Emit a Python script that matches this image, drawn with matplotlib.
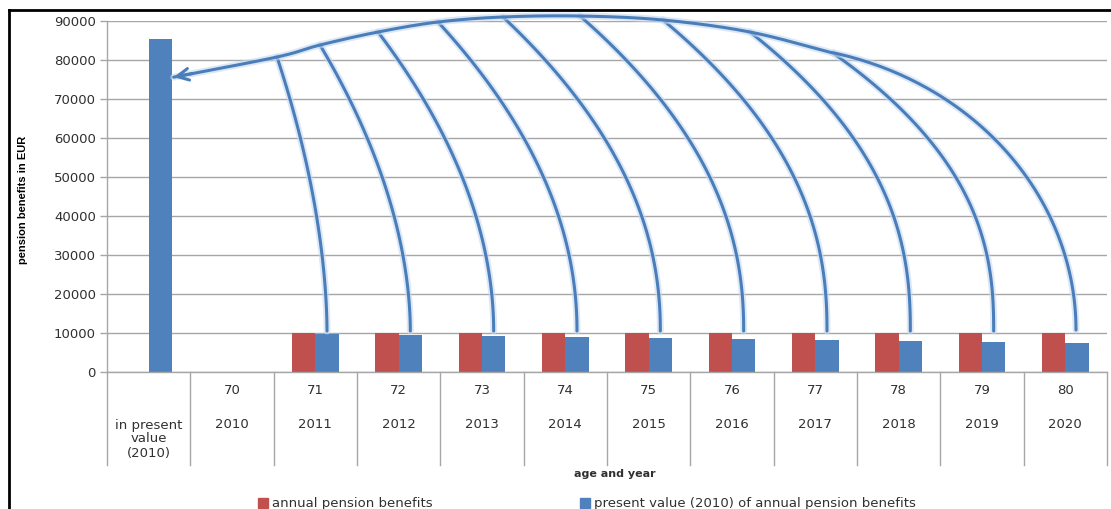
import numpy as np
import matplotlib
matplotlib.use('Agg')
import matplotlib.pyplot as plt
from matplotlib.lines import Line2D
from matplotlib.patches import Rectangle
import matplotlib.patheffects as pe

# ---------------- data ----------------
ages = ['', '70', '71', '72', '73', '74', '75', '76', '77', '78', '79', '80']
years = ['in present\nvalue\n(2010)', '2010', '2011', '2012', '2013', '2014',
         '2015', '2016', '2017', '2018', '2019', '2020']
annual = [0, 0, 10000, 10000, 10000, 10000, 10000, 10000, 10000, 10000, 10000, 10000]
present = [85302, 0, 9709, 9426, 9151, 8885, 8626, 8375, 8131, 7894, 7664, 7441]
series_names = ['annual pension benefits',
                'present value (2010) of annual pension benefits']
yticks = [0, 10000, 20000, 30000, 40000, 50000, 60000, 70000, 80000, 90000]

# annotation anchors (data coords) for the hand-drawn arrows
junction_x = [1.54, 2.056, 2.752, 3.472, 4.252, 5.176, 6.172, 7.216, 8.212]
junction_y = [80769, 83846, 87179, 89744, 91026, 91282, 90256, 87179, 81795]
outer_center = (7.336, 10769)     # elliptical outer arc (last bar -> 2019 junction)
outer_axes = (3.792, 73077)
arrow_tip = (0.30, 75600)
curve_foot_y = 10500

RED = '#C0504D'
BLUE = '#4F81BD'
LINE = '#4a7ebb'
TXT = '#303030'
GRID = '#a6a6a6'

W, H = 1111, 509
fig = plt.figure(figsize=(W / 100, H / 100), dpi=100)
ax = fig.add_axes([107 / W, 1 - 372 / H, 1000 / W, 351 / H])

x = np.arange(len(years))
bw = 0.28
ax.bar(x - bw / 2, annual, bw, color=RED, zorder=2)
ax.bar(x + bw / 2, present, bw, color=BLUE, zorder=2)

ax.set_xlim(-0.5, len(years) - 0.5)
ax.set_ylim(0, 90000)
ax.set_yticks(yticks)
ax.set_yticklabels([str(v) for v in yticks], fontsize=9.5, color=TXT)
ax.tick_params(axis='y', direction='out', length=5, width=1, color=GRID, pad=3)
ax.set_xticks([])
ax.yaxis.grid(True, color=GRID, lw=1)
ax.set_axisbelow(True)
for s in ['top', 'right']:
    ax.spines[s].set_visible(False)
for s in ['left', 'bottom']:
    ax.spines[s].set_color(GRID)
    ax.spines[s].set_linewidth(1)

# category table below the axis
xt = ax.get_xaxis_transform()
depth = -93 / 351
for b in np.arange(-0.5, len(years), 1.0):
    ax.plot([b, b], [0, depth], transform=xt, color=GRID, lw=1, clip_on=False)
for i, (a, yr) in enumerate(zip(ages, years)):
    if a:
        ax.text(i, -19 / 351, a, transform=xt, ha='center', va='center',
                fontsize=9.5, color=TXT)
    if '\n' in yr:
        ax.text(i, -67 / 351, yr, transform=xt, ha='center', va='center',
                fontsize=9.5, color=TXT, linespacing=1.1)
    else:
        ax.text(i, -52 / 351, yr, transform=xt, ha='center', va='center',
                fontsize=9.5, color=TXT)


# ---------------- arrows ----------------
def catmull_rom(pts, start=None, end=None, n=40):
    pts = np.asarray(pts, dtype=float)
    a = np.asarray(start, float) if start is not None else 2 * pts[0] - pts[1]
    b = np.asarray(end, float) if end is not None else 2 * pts[-1] - pts[-2]
    P = np.vstack([a, pts, b])
    out = []
    t = np.linspace(0, 1, n, endpoint=False)[:, None]
    for i in range(1, len(P) - 2):
        p0, p1, p2, p3 = P[i - 1], P[i], P[i + 1], P[i + 2]
        out.append(0.5 * (2 * p1 + (-p0 + p2) * t
                          + (2 * p0 - 5 * p1 + 4 * p2 - p3) * t ** 2
                          + (-p0 + 3 * p1 - 3 * p2 + p3) * t ** 3))
    out.append(P[-2][None])
    return np.vstack(out)


effects = [pe.Stroke(linewidth=5, foreground='#c6d9f1', alpha=0.6), pe.Normal()]
line_kw = dict(color=LINE, lw=2.2, clip_on=False, zorder=5,
               solid_capstyle='round', path_effects=effects)

# branch curves from each bar top to the envelope
for k, (jx, jy) in enumerate(zip(junction_x, junction_y)):
    bx = (k + 2) + bw / 2
    p = 1.8 + 0.08 * k
    s = np.linspace(0, 1, 80)
    cx = bx + (jx - bx) * s ** p
    cy = curve_foot_y + (jy - curve_foot_y) * s
    ax.plot(cx, cy, **line_kw)

# outer envelope: elliptical arc from the last bar up to the 2019 junction
cxe, cye = outer_center
ae, be = outer_axes
t_end = np.arccos((junction_x[-1] - cxe) / ae)
t = np.linspace(0, t_end, 120)
ex = cxe + ae * np.cos(t)
ey = cye + be * np.sin(t)
# then a smooth curve through the remaining junctions to the arrow tip
tprev = t_end - 0.08
prev_pt = (cxe + ae * np.cos(tprev), cye + be * np.sin(tprev))
upper_pts = list(zip(junction_x[::-1], junction_y[::-1])) + [arrow_tip]
upper = catmull_rom(upper_pts, start=prev_pt)
env = np.vstack([np.column_stack([ex, ey]), upper[1:]])
ax.plot(env[:, 0], env[:, 1], **line_kw)
ax.annotate('', xy=tuple(env[-1]), xytext=tuple(env[-8]),
            arrowprops=dict(arrowstyle='->,head_length=0.6,head_width=0.3',
                            color=LINE, lw=2.2, mutation_scale=14,
                            shrinkA=0, shrinkB=0),
            annotation_clip=False, zorder=6)

# ---------------- labels / legend ----------------
fig.text(23 / W, 1 - 200 / H, 'pension benefits in EUR', rotation=90,
         fontsize=8, weight='bold', family='Liberation Sans',
         ha='center', va='center', color='black')
fig.text(615 / W, 1 - 474 / H, 'age and year', fontsize=8, weight='bold',
         ha='center', va='center', color=TXT)

leg = [(258, RED, series_names[0]), (580, BLUE, series_names[1])]
for lx, col, name in leg:
    fig.add_artist(Rectangle((lx / W, 1 - 508 / H), 10 / W, 10 / H,
                             transform=fig.transFigure, color=col))
    fig.text((lx + 14) / W, 1 - 503 / H, name, fontsize=9.5, color=TXT,
             ha='left', va='center')

# frame lines of the original figure
fig.add_artist(Line2D([9 / W, 1], [1 - 10 / H, 1 - 10 / H],
                      transform=fig.transFigure, color='black', lw=2))
fig.add_artist(Line2D([9 / W, 9 / W], [0, 1 - 10 / H],
                      transform=fig.transFigure, color='black', lw=2))

fig.savefig('out.png', dpi=100)
